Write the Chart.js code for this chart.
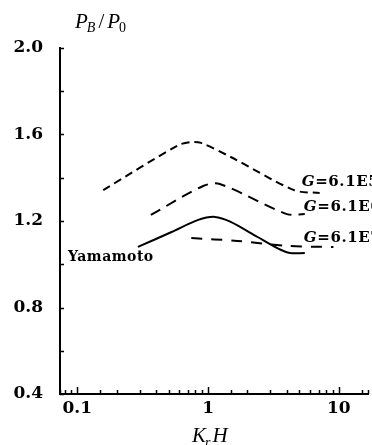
<!DOCTYPE html>
<html>
<head>
<meta charset="utf-8">
<script src="https://cdn.jsdelivr.net/npm/chart.js@4"></script>
<style>
  body { margin: 0; background: #fff; }
  canvas { display: block; }
</style>
</head>
<body>
<canvas id="pbChart" width="372" height="445"></canvas>
<script>
// curve values (x = KrH, y = PB/P0)
const g5X = [0.158, 0.594, 0.744, 0.885, 1.49, 4.54, 7.13];
const g5Y = [1.343, 1.551, 1.565, 1.561, 1.496, 1.343, 1.329];

const g6X = [0.365, 0.917, 1.23, 4.01, 5.49];
const g6Y = [1.228, 1.362, 1.371, 1.232, 1.232];

const yamaX = [0.291, 0.526, 0.841, 1.13, 1.49, 2.39, 3.38, 4.23, 5.49];
const yamaY = [1.080, 1.149, 1.205, 1.219, 1.196, 1.126, 1.075, 1.052, 1.052];

const g7X = [0.744, 1.68, 4.01, 9.09];
const g7Y = [1.121, 1.108, 1.085, 1.080];

const xTickLabels = [0.1, 1, 10];
const yTickLabels = [0.4, 0.8, 1.2, 1.6, 2.0];

// curve labels: text, anchor in data units
const curveLabels = [
  { g: 'G', rest: '=6.1E5', x: 5.2, y: 1.38 },
  { g: 'G', rest: '=6.1E6', x: 5.4, y: 1.265 },
  { g: 'G', rest: '=6.1E7', x: 5.4, y: 1.121 }
];
const yamaLabel = { text: 'Yamamoto', x: 0.0848, y: 1.034 };

function pts(xs, ys) {
  return xs.map((x, i) => ({ x: x, y: ys[i] }));
}

const serif = 'Liberation Serif';
const boldSerif = 'DejaVu Serif';

// ticks drawn inside the frame, plus titles and curve labels
const decorPlugin = {
  id: 'decor',
  afterDraw(chart) {
    const ctx = chart.ctx;
    const xs = chart.scales.x;
    const ys = chart.scales.y;
    const area = chart.chartArea;
    ctx.save();
    ctx.strokeStyle = '#000';
    ctx.lineWidth = 1.5;

    // x ticks (log: majors at decades)
    xs.ticks.forEach(t => {
      const v = t.value;
      if (v < xs.min || v > xs.max) return;
      const px = Math.round(xs.getPixelForValue(v)) + 0.5;
      const lg = Math.log10(v);
      const major = Math.abs(lg - Math.round(lg)) < 1e-6;
      ctx.beginPath();
      ctx.moveTo(px, area.bottom);
      ctx.lineTo(px, area.bottom - (major ? 7 : 4));
      ctx.stroke();
    });
    // y ticks
    ys.ticks.forEach(t => {
      const py = Math.round(ys.getPixelForValue(t.value)) + 0.5;
      ctx.beginPath();
      ctx.moveTo(area.left, py);
      ctx.lineTo(area.left + 4, py);
      ctx.stroke();
    });

    ctx.fillStyle = '#000';
    ctx.textBaseline = 'alphabetic';
    ctx.textAlign = 'left';

    // y title  P_B / P_0
    let x = 75;
    const by = 28;
    ctx.font = 'italic 21px ' + serif;
    ctx.fillText('P', x, by);
    x += ctx.measureText('P').width;
    ctx.font = 'italic 14px ' + serif;
    ctx.fillText('B', x - 1, by + 4);
    x += ctx.measureText('B').width + 2;
    ctx.font = '21px ' + serif;
    ctx.fillText('/', x, by);
    x += ctx.measureText('/').width + 3;
    ctx.font = 'italic 21px ' + serif;
    ctx.fillText('P', x, by);
    x += ctx.measureText('P').width;
    ctx.font = '14px ' + serif;
    ctx.fillText('0', x - 1, by + 4);

    // x title  K_r H
    x = 192;
    const bx = 442;
    ctx.font = 'italic 21px ' + serif;
    ctx.fillText('K', x, bx);
    x += ctx.measureText('K').width - 1;
    ctx.font = 'italic 14px ' + serif;
    ctx.fillText('r', x, bx + 5);
    x += ctx.measureText('r').width + 2;
    ctx.font = 'italic 21px ' + serif;
    ctx.fillText('H', x, bx);

    // curve labels
    ctx.textBaseline = 'middle';
    ctx.letterSpacing = '0.6px';
    curveLabels.forEach(l => {
      let lx = xs.getPixelForValue(l.x);
      const ly = ys.getPixelForValue(l.y);
      ctx.font = 'italic bold 15px ' + boldSerif;
      ctx.fillText(l.g, lx, ly);
      lx += ctx.measureText(l.g).width;
      ctx.font = 'bold 15px ' + boldSerif;
      ctx.fillText(l.rest, lx, ly);
    });
    ctx.letterSpacing = '0.5px';
    ctx.font = 'bold 14px ' + boldSerif;
    ctx.fillText(yamaLabel.text, xs.getPixelForValue(yamaLabel.x), ys.getPixelForValue(yamaLabel.y));

    ctx.restore();
  }
};

const tickFont = { family: boldSerif, weight: 'bold', size: 17 };

new Chart('pbChart', {
  type: 'line',
  data: {
    datasets: [
      { label: 'G=6.1E5', data: pts(g5X, g5Y), borderDash: [8, 5] },
      { label: 'G=6.1E6', data: pts(g6X, g6Y), borderDash: [11, 7] },
      { label: 'Yamamoto', data: pts(yamaX, yamaY), borderDash: [] },
      { label: 'G=6.1E7', data: pts(g7X, g7Y), borderDash: [11, 9] }
    ].map(d => Object.assign({
      borderColor: '#000',
      borderWidth: 2,
      pointRadius: 0,
      tension: 0.3,
      fill: false
    }, d))
  },
  options: {
    responsive: false,
    animation: false,
    layout: { padding: { top: 48, left: 0, right: 0, bottom: 0 } },
    plugins: { legend: { display: false }, tooltip: { enabled: false } },
    scales: {
      x: {
        type: 'logarithmic',
        min: 0.0738,
        max: 16.7,
        grid: { display: false, drawTicks: false },
        border: { display: true, color: '#000', width: 2 },
        ticks: {
          autoSkip: false,
          maxRotation: 0,
          padding: 4,
          color: '#000',
          font: tickFont,
          callback: v => xTickLabels.some(t => Math.abs(t - v) < 1e-9) ? String(v) : ''
        },
        afterFit: s => { s.height = 51; }
      },
      y: {
        min: 0.4,
        max: 2.0,
        grid: { display: false, drawTicks: false },
        border: { display: true, color: '#000', width: 2 },
        ticks: {
          stepSize: 0.2,
          padding: 17,
          color: '#000',
          font: tickFont,
          callback: v => yTickLabels.some(t => Math.abs(t - v) < 1e-6) ? v.toFixed(1) : ''
        },
        afterFit: s => { s.width = 60; }
      }
    }
  },
  plugins: [decorPlugin]
});
</script>
</body>
</html>
